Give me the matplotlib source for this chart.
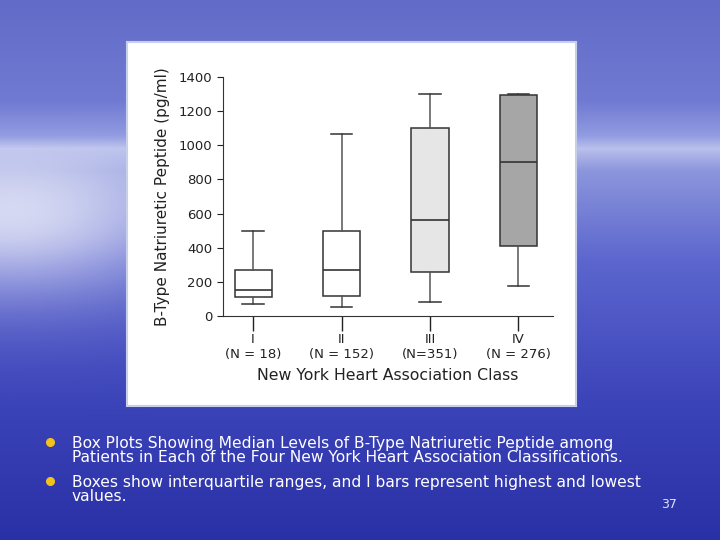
import numpy as np
import matplotlib.pyplot as plt

# box plot stats (pg/ml)
classes = ['I', 'II', 'III', 'IV']
counts = ['N = 18', 'N = 152', 'N=351', 'N = 276']
lows = [70, 55, 80, 175]
q1s = [110, 115, 260, 410]
medians = [155, 270, 565, 900]
q3s = [270, 500, 1100, 1295]
highs = [495, 1065, 1300, 1300]
box_colors = ['white', 'white', '#e6e6e6', '#a6a6a6']

bullets = [
    'Box Plots Showing Median Levels of B-Type Natriuretic Peptide among\n'
    'Patients in Each of the Four New York Heart Association Classifications.',
    'Boxes show interquartile ranges, and I bars represent highest and lowest\n'
    'values.',
]

fig = plt.figure(figsize=(7.2, 5.4), dpi=100)

#%% slide background: sky, horizon and sea
bg = fig.add_axes([0, 0, 1, 1])
h, w = 540, 720
rows = np.arange(h)[:, None]
cols = np.arange(w)[None, :]
stops = [0, 100, 135, 148, 170, 260, 400, 540]
r = np.interp(rows, stops, [98, 112, 145, 185, 140, 92, 60, 42])
g = np.interp(rows, stops, [108, 122, 155, 192, 150, 102, 68, 48])
b = np.interp(rows, stops, [200, 210, 225, 236, 220, 206, 185, 165])
fade = 1 / (1 + np.exp(-(rows - 150) / 6.0))
glow = np.exp(-((cols - 10) ** 2) / (2 * 120 ** 2) - ((rows - 215) ** 2) / (2 * 55 ** 2)) * 0.7 * fade
img = np.stack([r + 0 * cols, g + 0 * cols, b + 0 * cols], axis=-1)
img = img + (255 - img) * glow[..., None]
bg.imshow(np.clip(img, 0, 255).astype(np.uint8), aspect='auto', extent=[0, 1, 0, 1], origin='upper')
bg.set_xlim(0, 1)
bg.set_ylim(0, 1)
bg.axis('off')

# white panel behind the chart
bg.add_patch(plt.Rectangle((127 / 720, 1 - 406 / 540), 449 / 720, 364 / 540,
                           facecolor='white', edgecolor='#c8cfe8', lw=1.5))

#%% bullet text
for i, txt in enumerate(bullets):
    y = 1 - (436 + i * 39) / 540
    bg.plot(50 / 720, y - 0.012, 'o', color='#f2c21a', ms=5.5)
    bg.text(72 / 720, y, txt, color='white', fontsize=11.2, va='top', ha='left',
            linespacing=0.95)
bg.text(677 / 720, 1 - 505 / 540, '37', color='#dfe3f7', fontsize=9, ha='right', va='center')

#%% the box plot
ax = fig.add_axes([223 / 720, 1 - 316 / 540, 330 / 720, 239 / 540])
stats = []
for c, lo, a, m, b_, hi in zip(classes, lows, q1s, medians, q3s, highs):
    stats.append({'label': c, 'whislo': lo, 'q1': a, 'med': m, 'q3': b_, 'whishi': hi})

bp = ax.bxp(stats, positions=range(1, 5), widths=0.42, patch_artist=True, showfliers=False,
            boxprops=dict(edgecolor='#333333', linewidth=1.1),
            whiskerprops=dict(color='#555555', linewidth=1.1),
            capprops=dict(color='#333333', linewidth=1.1),
            medianprops=dict(color='#333333', linewidth=1.2))
for patch, col in zip(bp['boxes'], box_colors):
    patch.set_facecolor(col)
for cap in bp['caps']:
    xs = cap.get_xdata()
    mid = (xs[0] + xs[1]) / 2
    cap.set_xdata([mid - 0.12, mid + 0.12])

ax.set_xlim(0.66, 4.39)
ax.set_ylim(0, 1400)
ax.set_yticks(range(0, 1401, 200))
ax.set_xticks(range(1, 5))
ax.set_xticklabels([c + '\n(' + n + ')' for c, n in zip(classes, counts)], color='#222222')
ax.tick_params(axis='both', labelsize=9.5, colors='#222222', direction='out')
ax.tick_params(axis='x', length=11, width=1, pad=1)
ax.tick_params(axis='y', length=4)
for s in ['top', 'right']:
    ax.spines[s].set_visible(False)
for s in ['left', 'bottom']:
    ax.spines[s].set_color('#333333')
ax.set_ylabel('B-Type Natriuretic Peptide (pg/ml)', fontsize=11, color='#222222', labelpad=6)
ax.set_xlabel('New York Heart Association Class', fontsize=11.3, color='#222222', labelpad=5)

fig.savefig('out.png', dpi=100)
